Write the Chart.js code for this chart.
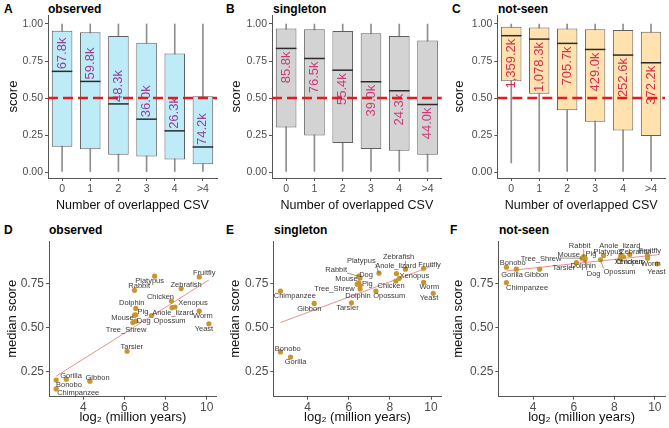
<!DOCTYPE html>
<html>
<head>
<meta charset="utf-8">
<script src="https://cdn.jsdelivr.net/npm/chart.js@4.4.1/dist/chart.umd.min.js"></script>
<style>
    body { margin: 0; background: #fff; width: 669px; height: 428px; position: relative; overflow: hidden; font-family: 'Liberation Sans', Arial, sans-serif; }
    canvas { position: absolute; }
    .tag { position: absolute; font-weight: bold; font-size: 12px; line-height: 14px; color: #000; white-space: nowrap; }
</style>
</head>
<body>
<div class="tag" style="left:4px;top:2px">A</div>
<div class="tag" style="left:48px;top:2px">observed</div>
<div class="tag" style="left:226px;top:2px">B</div>
<div class="tag" style="left:273px;top:2px">singleton</div>
<div class="tag" style="left:452px;top:2px">C</div>
<div class="tag" style="left:498px;top:2px">not-seen</div>
<div class="tag" style="left:4px;top:223px">D</div>
<div class="tag" style="left:49px;top:223px">observed</div>
<div class="tag" style="left:226px;top:223px">E</div>
<div class="tag" style="left:274px;top:223px">singleton</div>
<div class="tag" style="left:450px;top:223px">F</div>
<div class="tag" style="left:499px;top:223px">not-seen</div>

<canvas id="cA" width="223" height="215" style="left:0;top:0"></canvas>
<canvas id="cB" width="223" height="215" style="left:223px;top:0"></canvas>
<canvas id="cC" width="223" height="215" style="left:446px;top:0"></canvas>
<canvas id="cD" width="223" height="213" style="left:0;top:215px"></canvas>
<canvas id="cE" width="223" height="213" style="left:223px;top:215px"></canvas>
<canvas id="cF" width="223" height="213" style="left:446px;top:215px"></canvas>

<script>
Chart.defaults.font.family = "'Liberation Sans', Arial, sans-serif";
Chart.defaults.color = '#4d4d4d';
Chart.defaults.animation = false;

// ---- box plot data (score by number of overlapped CSV) ----
const categories = ['0', '1', '2', '3', '4', '>4'];
const cutoff = 0.5;
const scoreTicks = [0, 0.25, 0.5, 0.75, 1];

const obsLow = [0, 0, 0, 0, 0, 0];
const obsQ1 = [0.17, 0.153, 0.117, 0.104, 0.084, 0.052];
const obsMed = [0.68, 0.612, 0.46, 0.357, 0.278, 0.169];
const obsQ3 = [0.955, 0.944, 0.919, 0.874, 0.80, 0.512];
const obsHigh = [1, 1, 1, 1, 1, 1];
const obsCounts = ['67.8k', '59.8k', '48.3k', '36.0k', '26.3k', '74.2k'];

const sglLow = [0, 0, 0, 0, 0, 0];
const sglQ1 = [0.30, 0.246, 0.196, 0.156, 0.144, 0.117];
const sglMed = [0.835, 0.767, 0.688, 0.61, 0.549, 0.456];
const sglQ3 = [0.97, 0.964, 0.953, 0.937, 0.919, 0.889];
const sglHigh = [1, 1, 1, 1, 1, 1];
const sglCounts = ['85.8k', '76.5k', '55.4k', '39.0k', '24.3k', '44.0k'];

const nsLow = [0.061, 0, 0, 0, 0, 0];
const nsQ1 = [0.614, 0.528, 0.418, 0.339, 0.28, 0.244];
const nsMed = [0.921, 0.898, 0.869, 0.828, 0.79, 0.738];
const nsQ3 = [0.982, 0.977, 0.97, 0.964, 0.959, 0.948];
const nsHigh = [1, 1, 1, 1, 1, 1];
const nsCounts = ['1,359.2k', '1,078.3k', '705.7k', '429.0k', '252.6k', '372.2k'];

// ---- median score vs divergence time ----
const species = ['Chimpanzee', 'Bonobo', 'Gorilla', 'Gibbon', 'Tarsier', 'Tree_Shrew', 'Mouse', 'Rabbit', 'Pig', 'Dog',
    'Dolphin', 'Opossum', 'Platypus', 'Chicken', 'Anole_lizard', 'Xenopus', 'Zebrafish', 'Fruitfly', 'Worm', 'Yeast'];
const log2Mya = [2.68, 2.68, 3.17, 4.32, 6.13, 6.41, 6.49, 6.49, 6.55, 6.55, 6.55, 7.32, 7.47, 8.29, 8.32, 8.46, 8.76, 9.64, 9.64, 10.11];
const obsMedian = [0.153, 0.203, 0.208, 0.197, 0.366, 0.528, 0.57, 0.71, 0.572, 0.536, 0.608, 0.568, 0.79, 0.65, 0.612, 0.616, 0.72, 0.786, 0.593, 0.521];
const sglMedian = [0.706, 0.362, 0.333, 0.636, 0.64, 0.745, 0.752, 0.79, 0.737, 0.78, 0.718, 0.706, 0.807, 0.763, 0.805, 0.778, 0.83, 0.835, 0.756, 0.693];
const nsMedian = [0.754, 0.841, 0.83, 0.83, 0.867, 0.892, 0.90, 0.90, 0.892, 0.883, 0.89, 0.883, 0.907, 0.89, 0.91, 0.90, 0.913, 0.907, 0.892, 0.86];
const medianTicks = [0.25, 0.5, 0.75];
const yearTicks = [4, 6, 8, 10];

const fitX = [2.68, 10.11];
const obsFitY = [0.225, 0.769];
const sglFitY = [0.528, 0.85];
const nsFitY = [0.82, 0.911];

// label nudges (px) for the species names
const obsNudge = {
    Chimpanzee: [22, 4], Bonobo: [12.7, 4.7], Gorilla: [4.7, -3.7], Gibbon: [7.7, -3.3], Tarsier: [4.7, -4],
    Tree_Shrew: [-6.7, 7], Mouse: [-12, 3.3], Rabbit: [4.7, -4], Pig: [7.3, -3.3], Dog: [8, 0],
    Dolphin: [-4, -5], Opossum: [18, 5.7], Platypus: [-5, 4.7], Chicken: [-11, -4.3], Anole_lizard: [0.7, 5],
    Xenopus: [18, -3.7], Zebrafish: [5, -3.7], Fruitfly: [5, -4.3], Worm: [3.7, 5], Yeast: [-5, 5.3]
};
const sglNudge = {
    Chimpanzee: [14.3, 5], Bonobo: [7.3, -3.3], Gorilla: [5, 5.3], Gibbon: [-5, 5], Tarsier: [-4, 5],
    Tree_Shrew: [-22.7, 4.3], Mouse: [-12.3, -3.7], Rabbit: [-22.7, -6.7], Pig: [7.3, -1.3], Dog: [6, -2.7],
    Dolphin: [-2, 7.3], Opossum: [13.3, 4.7], Platypus: [-17.7, -12.7], Chicken: [-4.7, 4.7], Anole_lizard: [-0.7, -7.7],
    Xenopus: [15, -2.7], Zebrafish: [-7, -11.7], Fruitfly: [6, -3.3], Worm: [5.7, 4.3], Yeast: [-4.3, 5]
};
const nsNudge = {
    Chimpanzee: [20.7, 5.7], Bonobo: [6.3, -4.7], Gorilla: [-4.3, 5.7], Gibbon: [-3.3, 5.7], Tarsier: [-12.7, 5],
    Tree_Shrew: [-41, 0.7], Mouse: [-15, -1.7], Rabbit: [-4, -11], Pig: [6, -4], Dog: [8.7, 14.3],
    Dolphin: [-1.7, 7.3], Opossum: [19, 12.3], Platypus: [4.3, -4], Chicken: [9, 3.3], Anole_lizard: [-1, -9.3],
    Xenopus: [5.7, 5], Zebrafish: [6, -3], Fruitfly: [2.3, -4.7], Worm: [3.3, 6], Yeast: [-0.7, 8.3]
};

const axisColor = '#555';

function axisStyle() {
    return {
        grid: { display: true, drawOnChartArea: false, drawTicks: true, tickLength: 3, color: axisColor, offset: false },
        border: { display: true, color: axisColor, width: 1 }
    };
}

function boxChart(id, o) {
    const extras = {
        id: 'boxExtras',
        afterDatasetsDraw(chart) {
            const ctx = chart.ctx;
            const y = chart.scales.y;
            const area = chart.chartArea;
            const boxes = chart.getDatasetMeta(0).data;
            ctx.save();
            ctx.strokeStyle = '#2b2b2b';
            ctx.lineWidth = 1.5;
            boxes.forEach((bar, i) => {
                const py = y.getPixelForValue(o.med[i]);
                ctx.beginPath();
                ctx.moveTo(bar.x - bar.width / 2, py);
                ctx.lineTo(bar.x + bar.width / 2, py);
                ctx.stroke();
            });
            ctx.font = '13px "Liberation Sans", Arial, sans-serif';
            ctx.fillStyle = o.textColor;
            ctx.textBaseline = 'middle';
            ctx.textAlign = o.above ? 'left' : 'right';
            boxes.forEach((bar, i) => {
                const py = y.getPixelForValue(o.med[i]) + (o.above ? -2 : 3);
                ctx.save();
                ctx.translate(bar.x, py);
                ctx.rotate(-Math.PI / 2);
                ctx.fillText(o.counts[i], 0, 0);
                ctx.restore();
            });
            const cy = y.getPixelForValue(cutoff);
            ctx.strokeStyle = '#e41a1c';
            ctx.lineWidth = 2.5;
            ctx.setLineDash([10, 5]);
            ctx.beginPath();
            ctx.moveTo(area.left, cy);
            ctx.lineTo(area.right, cy);
            ctx.stroke();
            ctx.restore();
        }
    };

    return new Chart(document.getElementById(id), {
        type: 'bar',
        data: {
            labels: categories,
            datasets: [
                {
                    data: o.q1.map((v, i) => [v, o.q3[i]]),
                    backgroundColor: o.fill,
                    borderColor: '#606060',
                    borderWidth: 1,
                    borderSkipped: false,
                    barPercentage: 0.73,
                    categoryPercentage: 1,
                    grouped: false,
                    order: 0
                },
                {
                    data: o.low.map((v, i) => [v, o.high[i]]),
                    backgroundColor: '#8f8f8f',
                    barThickness: 1,
                    grouped: false,
                    order: 1
                }
            ]
        },
        options: {
            responsive: false,
            layout: { padding: { left: 0, top: 15, right: o.right, bottom: 0 } },
            plugins: { legend: { display: false }, tooltip: { enabled: false } },
            scales: {
                x: {
                    offset: true,
                    ...axisStyle(),
                    ticks: { font: { size: 10.5 }, padding: 2 },
                    title: { display: true, text: 'Number of overlapped CSV', color: '#111', font: { size: 12.5 }, padding: { top: 0, bottom: 2 } },
                    afterFit(s) { s.height = 37; }
                },
                y: {
                    min: -0.0405,
                    max: 1.0608,
                    ...axisStyle(),
                    afterBuildTicks(s) { s.ticks = scoreTicks.map(v => ({ value: v })); },
                    ticks: { font: { size: 10.5 }, padding: 2, callback: v => v.toFixed(2) },
                    title: { display: true, text: 'score', color: '#111', font: { size: 13 }, padding: { top: 6, bottom: 0 } },
                    afterFit(s) { s.width = o.left; }
                }
            }
        },
        plugins: [extras]
    });
}

function scatterChart(id, o) {
    const names = {
        id: 'speciesNames',
        afterDatasetsDraw(chart) {
            const ctx = chart.ctx;
            const pts = chart.getDatasetMeta(0).data;
            ctx.save();
            ctx.font = '7.5px "Liberation Sans", Arial, sans-serif';
            ctx.textAlign = 'center';
            ctx.textBaseline = 'middle';
            pts.forEach((p, i) => {
                const name = species[i];
                const d = o.nudge[name] || [0, -6];
                const lx = p.x + d[0];
                const ly = p.y + d[1];
                const w = ctx.measureText(name).width;
                const h = 7;
                const nx = Math.max(lx - w / 2, Math.min(p.x, lx + w / 2));
                const ny = Math.max(ly - h / 2, Math.min(p.y, ly + h / 2));
                if (Math.hypot(nx - p.x, ny - p.y) > 5) {
                    ctx.strokeStyle = '#555';
                    ctx.lineWidth = 0.6;
                    ctx.beginPath();
                    ctx.moveTo(p.x, p.y);
                    ctx.lineTo(nx, ny);
                    ctx.stroke();
                }
                ctx.fillStyle = '#3a3a3a';
                ctx.fillText(name, lx, ly);
            });
            ctx.restore();
        }
    };

    return new Chart(document.getElementById(id), {
        type: 'scatter',
        data: {
            datasets: [
                {
                    data: species.map((s, i) => ({ x: log2Mya[i], y: o.med[i] })),
                    backgroundColor: '#c8962d',
                    borderWidth: 0,
                    pointRadius: 2.6,
                    order: 0
                },
                {
                    type: 'line',
                    data: fitX.map((x, i) => ({ x: x, y: o.fitY[i] })),
                    borderColor: '#ef8f8f',
                    borderWidth: 1,
                    pointRadius: 0,
                    order: 1
                }
            ]
        },
        options: {
            responsive: false,
            layout: { padding: { left: 0, top: 26, right: o.right, bottom: 0 } },
            plugins: { legend: { display: false }, tooltip: { enabled: false } },
            scales: {
                x: {
                    type: 'linear',
                    min: o.xMin,
                    max: o.xMax,
                    ...axisStyle(),
                    afterBuildTicks(s) { s.ticks = yearTicks.map(v => ({ value: v })); },
                    ticks: { font: { size: 12 }, padding: 1, callback: v => String(v) },
                    title: { display: true, text: 'log₂ (million years)', color: '#111', font: { size: 13 }, padding: { top: 0, bottom: 3 } },
                    afterFit(s) { s.height = 31.3; }
                },
                y: {
                    min: 0.109,
                    max: 0.989,
                    ...axisStyle(),
                    afterBuildTicks(s) { s.ticks = medianTicks.map(v => ({ value: v })); },
                    ticks: { font: { size: 12 }, padding: 2, callback: v => v.toFixed(2) },
                    title: { display: true, text: 'median score', color: '#111', font: { size: 13 }, padding: { top: 5, bottom: 0 } },
                    afterFit(s) { s.width = o.left; }
                }
            }
        },
        plugins: [names]
    });
}

boxChart('cA', { low: obsLow, q1: obsQ1, med: obsMed, q3: obsQ3, high: obsHigh, counts: obsCounts,
    fill: '#bdecf8', textColor: '#9a3d93', above: true, left: 48, right: 6 });
boxChart('cB', { low: sglLow, q1: sglQ1, med: sglMed, q3: sglQ3, high: sglHigh, counts: sglCounts,
    fill: '#d3d3d3', textColor: '#c93a7a', above: false, left: 49, right: 4.3 });
boxChart('cC', { low: nsLow, q1: nsQ1, med: nsMed, q3: nsQ3, high: nsHigh, counts: nsCounts,
    fill: '#ffe2ad', textColor: '#d3304f', above: false, left: 51.3, right: 4 });

scatterChart('cD', { med: obsMedian, fitY: obsFitY, nudge: obsNudge, xMin: 2.33, xMax: 10.49, left: 49, right: 6.3 });
scatterChart('cE', { med: sglMedian, fitY: sglFitY, nudge: sglNudge, xMin: 2.33, xMax: 10.52, left: 50.3, right: 4.3 });
scatterChart('cF', { med: nsMedian, fitY: nsFitY, nudge: nsNudge, xMin: 2.28, xMax: 10.5, left: 52.3, right: 4 });
</script>
</body>
</html>
